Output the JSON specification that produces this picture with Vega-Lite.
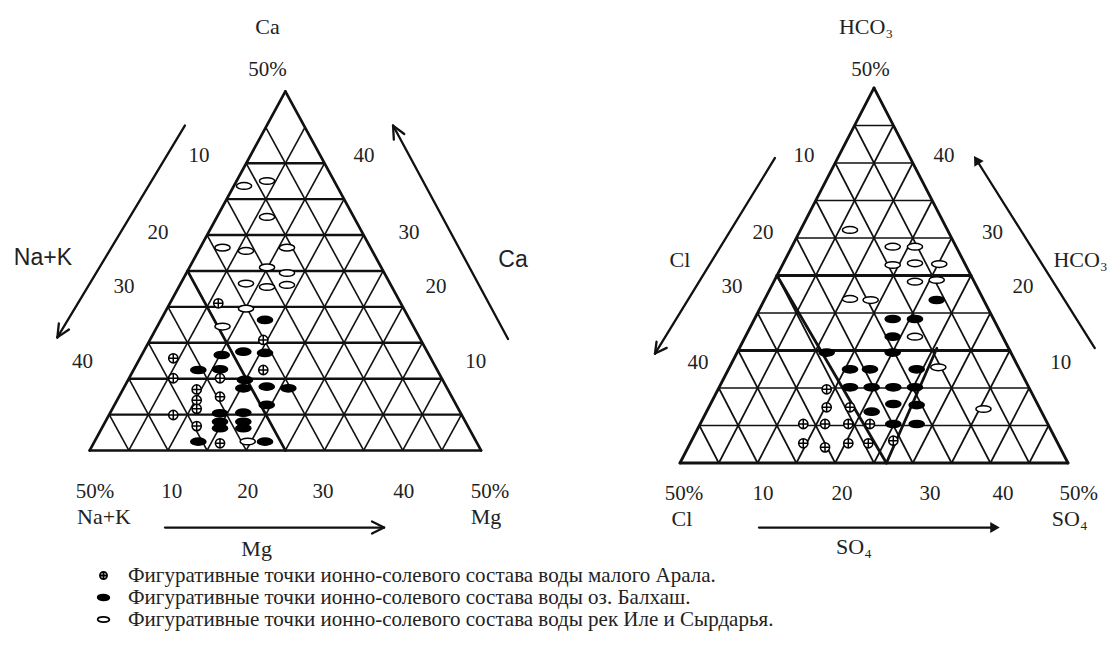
{
  "$schema": "https://vega.github.io/schema/vega-lite/v6.json",
  "padding": 0,
  "spacing": 0,
  "bounds": "flush",
  "background": "white",
  "config": {"view": {"stroke": null}},
  "resolve": {
    "scale": {"x": "independent", "y": "independent", "shape": "independent", "fill": "independent", "stroke": "independent"},
    "legend": {"shape": "independent", "fill": "independent", "stroke": "independent"}
  },
  "datasets": {
    "Lgrid": [
      {"x": 0, "y": 0, "x2": 50, "y2": 0, "t": "edge"},
      {"x": 0, "y": 0, "x2": 25, "y2": 50, "t": "edge"},
      {"x": 50, "y": 0, "x2": 25, "y2": 50, "t": "edge"},
      {"x": 2.5, "y": 5, "x2": 47.5, "y2": 5, "t": "h"},
      {"x": 5, "y": 10, "x2": 45, "y2": 10, "t": "h"},
      {"x": 7.5, "y": 15, "x2": 42.5, "y2": 15, "t": "h"},
      {"x": 10, "y": 20, "x2": 40, "y2": 20, "t": "h"},
      {"x": 12.5, "y": 25, "x2": 37.5, "y2": 25, "t": "h"},
      {"x": 15, "y": 30, "x2": 35, "y2": 30, "t": "h"},
      {"x": 17.5, "y": 35, "x2": 32.5, "y2": 35, "t": "h"},
      {"x": 20, "y": 40, "x2": 30, "y2": 40, "t": "h"},
      {"x": 5, "y": 0, "x2": 27.5, "y2": 45, "t": "d"},
      {"x": 10, "y": 0, "x2": 30, "y2": 40, "t": "d"},
      {"x": 15, "y": 0, "x2": 32.5, "y2": 35, "t": "d"},
      {"x": 20, "y": 0, "x2": 35, "y2": 30, "t": "d"},
      {"x": 25, "y": 0, "x2": 37.5, "y2": 25, "t": "d"},
      {"x": 30, "y": 0, "x2": 40, "y2": 20, "t": "d"},
      {"x": 35, "y": 0, "x2": 42.5, "y2": 15, "t": "d"},
      {"x": 40, "y": 0, "x2": 45, "y2": 10, "t": "d"},
      {"x": 45, "y": 0, "x2": 47.5, "y2": 5, "t": "d"},
      {"x": 5, "y": 0, "x2": 2.5, "y2": 5, "t": "d"},
      {"x": 10, "y": 0, "x2": 5, "y2": 10, "t": "d"},
      {"x": 15, "y": 0, "x2": 7.5, "y2": 15, "t": "d"},
      {"x": 20, "y": 0, "x2": 10, "y2": 20, "t": "d"},
      {"x": 25, "y": 0, "x2": 12.5, "y2": 25, "t": "d"},
      {"x": 30, "y": 0, "x2": 15, "y2": 30, "t": "d"},
      {"x": 35, "y": 0, "x2": 17.5, "y2": 35, "t": "d"},
      {"x": 40, "y": 0, "x2": 20, "y2": 40, "t": "d"},
      {"x": 45, "y": 0, "x2": 22.5, "y2": 45, "t": "d"},
      {"x": 12.5, "y": 25, "x2": 25, "y2": 0, "t": "edge"}
    ],
    "Rgrid": [
      {"x": 0, "y": 0, "x2": 50, "y2": 0, "t": "edge"},
      {"x": 0, "y": 0, "x2": 25, "y2": 50, "t": "edge"},
      {"x": 50, "y": 0, "x2": 25, "y2": 50, "t": "edge"},
      {"x": 2.5, "y": 5, "x2": 47.5, "y2": 5, "t": "d"},
      {"x": 5, "y": 10, "x2": 45, "y2": 10, "t": "d"},
      {"x": 7.5, "y": 15, "x2": 42.5, "y2": 15, "t": "edge"},
      {"x": 10, "y": 20, "x2": 40, "y2": 20, "t": "d"},
      {"x": 12.5, "y": 25, "x2": 37.5, "y2": 25, "t": "edge"},
      {"x": 15, "y": 30, "x2": 35, "y2": 30, "t": "d"},
      {"x": 17.5, "y": 35, "x2": 32.5, "y2": 35, "t": "d"},
      {"x": 20, "y": 40, "x2": 30, "y2": 40, "t": "d"},
      {"x": 22.5, "y": 45, "x2": 27.5, "y2": 45, "t": "d"},
      {"x": 5, "y": 0, "x2": 27.5, "y2": 45, "t": "d"},
      {"x": 10, "y": 0, "x2": 30, "y2": 40, "t": "d"},
      {"x": 15, "y": 0, "x2": 32.5, "y2": 35, "t": "d"},
      {"x": 20, "y": 0, "x2": 35, "y2": 30, "t": "d"},
      {"x": 25, "y": 0, "x2": 37.5, "y2": 25, "t": "d"},
      {"x": 30, "y": 0, "x2": 40, "y2": 20, "t": "d"},
      {"x": 35, "y": 0, "x2": 42.5, "y2": 15, "t": "d"},
      {"x": 40, "y": 0, "x2": 45, "y2": 10, "t": "d"},
      {"x": 45, "y": 0, "x2": 47.5, "y2": 5, "t": "d"},
      {"x": 5, "y": 0, "x2": 2.5, "y2": 5, "t": "d"},
      {"x": 10, "y": 0, "x2": 5, "y2": 10, "t": "d"},
      {"x": 15, "y": 0, "x2": 7.5, "y2": 15, "t": "d"},
      {"x": 20, "y": 0, "x2": 10, "y2": 20, "t": "d"},
      {"x": 25, "y": 0, "x2": 12.5, "y2": 25, "t": "d"},
      {"x": 30, "y": 0, "x2": 15, "y2": 30, "t": "d"},
      {"x": 35, "y": 0, "x2": 17.5, "y2": 35, "t": "d"},
      {"x": 40, "y": 0, "x2": 20, "y2": 40, "t": "d"},
      {"x": 45, "y": 0, "x2": 22.5, "y2": 45, "t": "d"},
      {"x": 12.5, "y": 25, "x2": 26.6, "y2": 0, "t": "edge"},
      {"x": 26.6, "y": 0, "x2": 33.1, "y2": 15.3, "t": "edge"}
    ],
    "Larrows": [
      {"x": 12.16, "y": 45.25, "x2": -4.13, "y2": 15.75},
      {"x": -4.13, "y": 15.75, "x2": -2.65, "y2": 16.84},
      {"x": -4.13, "y": 15.75, "x2": -3.94, "y2": 17.69},
      {"x": 53.45, "y": 15.53, "x2": 38.76, "y2": 45.25},
      {"x": 38.76, "y": 45.25, "x2": 38.86, "y2": 43.3},
      {"x": 38.76, "y": 45.25, "x2": 40.19, "y2": 44.08},
      {"x": 9.62, "y": -10.74, "x2": 37.61, "y2": -10.74},
      {"x": 37.61, "y": -10.74, "x2": 36.07, "y2": -9.9},
      {"x": 37.61, "y": -10.74, "x2": 36.07, "y2": -11.57}
    ],
    "Rarrows": [
      {"x": 12.24, "y": 40.67, "x2": -3.22, "y2": 14.59},
      {"x": -3.22, "y": 14.59, "x2": -1.71, "y2": 15.35},
      {"x": -3.22, "y": 14.59, "x2": -3.02, "y2": 16.17},
      {"x": 53.45, "y": 15.33, "x2": 38.4, "y2": 40.1},
      {"x": 10.18, "y": -8.61, "x2": 40.5, "y2": -8.61}
    ],
    "Rheads": [
      {"x": 38.21, "y": 40.41, "h": "HCO3"},
      {"x": 40.59, "y": -8.61, "h": "SO4"}
    ],
    "Lnum": [
      {"x": 22.71, "y": 52.99, "label": "50%"},
      {"x": 13.97, "y": 41.02, "label": "10"},
      {"x": 8.73, "y": 30.29, "label": "20"},
      {"x": 4.38, "y": 22.77, "label": "30"},
      {"x": -0.91, "y": 12.26, "label": "40"},
      {"x": 35.05, "y": 41.02, "label": "40"},
      {"x": 40.8, "y": 30.29, "label": "30"},
      {"x": 44.25, "y": 22.77, "label": "20"},
      {"x": 49.31, "y": 12.26, "label": "10"},
      {"x": 0.68, "y": -5.78, "label": "50%"},
      {"x": 10.47, "y": -5.78, "label": "10"},
      {"x": 20.19, "y": -5.78, "label": "20"},
      {"x": 29.81, "y": -5.78, "label": "30"},
      {"x": 40.14, "y": -5.78, "label": "40"},
      {"x": 51.15, "y": -5.78, "label": "50%"}
    ],
    "Lname": [
      {"x": 22.71, "y": 58.98, "label": "Ca"},
      {"x": 1.83, "y": -9.26, "label": "Na+K"},
      {"x": 50.64, "y": -9.26, "label": "Mg"},
      {"x": 21.33, "y": -13.72, "label": "Mg"}
    ],
    "Lsans": [
      {"x": -5.97, "y": 26.81, "label": "Na+K"},
      {"x": 54.09, "y": 26.53, "label": "Ca"}
    ],
    "Rnum": [
      {"x": 24.55, "y": 52.4, "label": "50%"},
      {"x": 15.98, "y": 40.93, "label": "10"},
      {"x": 10.7, "y": 30.67, "label": "20"},
      {"x": 6.7, "y": 23.47, "label": "30"},
      {"x": 2.32, "y": 13.4, "label": "40"},
      {"x": 34.02, "y": 40.93, "label": "40"},
      {"x": 40.27, "y": 30.67, "label": "30"},
      {"x": 44.2, "y": 23.47, "label": "20"},
      {"x": 49.06, "y": 13.4, "label": "10"},
      {"x": 0.52, "y": -4.07, "label": "50%"},
      {"x": 10.7, "y": -4.07, "label": "10"},
      {"x": 20.88, "y": -4.07, "label": "20"},
      {"x": 32.22, "y": -4.07, "label": "30"},
      {"x": 41.62, "y": -4.07, "label": "40"},
      {"x": 51.38, "y": -4.07, "label": "50%"}
    ],
    "Rname": [
      {"x": 23.97, "y": 58.13, "label": "HCO₃"},
      {"x": 0, "y": 27.07, "label": "Cl"},
      {"x": 51.61, "y": 27.07, "label": "HCO₃"},
      {"x": 0.26, "y": -7.43, "label": "Cl"},
      {"x": 50.22, "y": -7.43, "label": "SO₄"},
      {"x": 22.42, "y": -11.2, "label": "SO₄"}
    ],
    "Lpts": [
      {"x": 19.72, "y": 36.84, "s": "R"}, {"x": 22.66, "y": 37.53, "s": "R"}, {"x": 22.66, "y": 32.52, "s": "R"},
      {"x": 16.97, "y": 28.25, "s": "R"}, {"x": 19.97, "y": 27.79, "s": "R"}, {"x": 25.21, "y": 28.25, "s": "R"},
      {"x": 22.66, "y": 25.5, "s": "R"}, {"x": 25.21, "y": 24.72, "s": "R"}, {"x": 19.97, "y": 23.25, "s": "R"},
      {"x": 22.66, "y": 22.77, "s": "R"}, {"x": 25.21, "y": 23.05, "s": "R"}, {"x": 19.97, "y": 19.75, "s": "R"},
      {"x": 16.97, "y": 17.26, "s": "R"}, {"x": 20.19, "y": 1.25, "s": "R"},
      {"x": 22.4, "y": 18.18, "s": "B"}, {"x": 16.87, "y": 13.3, "s": "B"}, {"x": 19.63, "y": 13.76, "s": "B"},
      {"x": 22.4, "y": 13.58, "s": "B"}, {"x": 13.88, "y": 11.21, "s": "B"}, {"x": 16.65, "y": 11.31, "s": "B"},
      {"x": 19.84, "y": 9.82, "s": "B"}, {"x": 19.63, "y": 8.66, "s": "B"}, {"x": 22.62, "y": 8.89, "s": "B"},
      {"x": 25.38, "y": 8.66, "s": "B"}, {"x": 22.62, "y": 6.34, "s": "B"}, {"x": 16.65, "y": 5.18, "s": "B"},
      {"x": 19.63, "y": 5.26, "s": "B"}, {"x": 16.65, "y": 4.0, "s": "B"}, {"x": 16.65, "y": 3.1, "s": "B"},
      {"x": 19.63, "y": 4.0, "s": "B"}, {"x": 19.63, "y": 3.1, "s": "B"}, {"x": 13.88, "y": 1.23, "s": "B"},
      {"x": 22.4, "y": 1.23, "s": "B"},
      {"x": 16.43, "y": 20.5, "s": "A"}, {"x": 22.18, "y": 15.39, "s": "A"}, {"x": 10.68, "y": 12.84, "s": "A"},
      {"x": 22.18, "y": 11.21, "s": "A"}, {"x": 10.68, "y": 10.06, "s": "A"}, {"x": 16.65, "y": 10.06, "s": "A"},
      {"x": 13.67, "y": 8.5, "s": "A"}, {"x": 13.67, "y": 7.0, "s": "A"}, {"x": 13.67, "y": 5.8, "s": "A"},
      {"x": 16.65, "y": 7.49, "s": "A"}, {"x": 10.68, "y": 4.94, "s": "A"}, {"x": 13.67, "y": 3.4, "s": "A"},
      {"x": 16.65, "y": 1.0, "s": "A"}
    ],
    "Rpts": [
      {"x": 21.91, "y": 31.07, "s": "R"}, {"x": 27.41, "y": 28.84, "s": "R"}, {"x": 30.28, "y": 28.84, "s": "R"},
      {"x": 27.41, "y": 26.4, "s": "R"}, {"x": 30.28, "y": 26.63, "s": "R"}, {"x": 33.41, "y": 26.53, "s": "R"},
      {"x": 30.28, "y": 24.17, "s": "R"}, {"x": 33.08, "y": 24.4, "s": "R"}, {"x": 21.91, "y": 21.87, "s": "R"},
      {"x": 24.57, "y": 21.73, "s": "R"}, {"x": 30.28, "y": 16.84, "s": "R"}, {"x": 33.29, "y": 12.76, "s": "R"},
      {"x": 39.11, "y": 7.2, "s": "R"},
      {"x": 33.08, "y": 21.73, "s": "B"}, {"x": 27.41, "y": 19.2, "s": "B"}, {"x": 30.28, "y": 19.2, "s": "B"},
      {"x": 27.41, "y": 16.84, "s": "B"}, {"x": 18.9, "y": 14.73, "s": "B"}, {"x": 27.41, "y": 14.73, "s": "B"},
      {"x": 21.91, "y": 12.49, "s": "B"}, {"x": 24.48, "y": 12.49, "s": "B"}, {"x": 30.5, "y": 12.49, "s": "B"},
      {"x": 21.91, "y": 10.09, "s": "B"}, {"x": 24.7, "y": 10.09, "s": "B"}, {"x": 27.49, "y": 10.09, "s": "B"},
      {"x": 30.28, "y": 10.09, "s": "B"}, {"x": 24.7, "y": 6.84, "s": "B"}, {"x": 27.49, "y": 7.87, "s": "B"},
      {"x": 30.5, "y": 7.73, "s": "B"}, {"x": 27.49, "y": 5.2, "s": "B"}, {"x": 30.5, "y": 5.2, "s": "B"},
      {"x": 18.9, "y": 9.83, "s": "A"}, {"x": 18.9, "y": 7.43, "s": "A"}, {"x": 21.91, "y": 7.43, "s": "A"},
      {"x": 15.89, "y": 5.2, "s": "A"}, {"x": 18.69, "y": 5.2, "s": "A"}, {"x": 21.69, "y": 5.2, "s": "A"},
      {"x": 24.48, "y": 5.2, "s": "A"}, {"x": 15.89, "y": 2.63, "s": "A"}, {"x": 18.69, "y": 2.09, "s": "A"},
      {"x": 21.69, "y": 2.63, "s": "A"}, {"x": 24.27, "y": 2.63, "s": "A"}, {"x": 27.49, "y": 2.97, "s": "A"}
    ]
  },
  "hconcat": [
    {
      "width": 560,
      "height": 662,
      "encoding": {
        "x": {"field": "x", "type": "quantitative", "scale": {"domain": [-11.46, 60.09], "nice": false, "zero": false}, "axis": null},
        "y": {"field": "y", "type": "quantitative", "scale": {"domain": [-29.46, 62.74], "nice": false, "zero": false}, "axis": null}
      },
      "layer": [
        {"data": {"name": "Lgrid"}, "transform": [{"filter": "datum.t === 'd'"}],
         "mark": {"type": "rule", "color": "#111", "strokeWidth": 1.6},
         "encoding": {"x2": {"field": "x2"}, "y2": {"field": "y2"}}},
        {"data": {"name": "Lgrid"}, "transform": [{"filter": "datum.t === 'h'"}],
         "mark": {"type": "rule", "color": "#111", "strokeWidth": 2.4},
         "encoding": {"x2": {"field": "x2"}, "y2": {"field": "y2"}}},
        {"data": {"name": "Lgrid"}, "transform": [{"filter": "datum.t === 'edge'"}],
         "mark": {"type": "rule", "color": "#111", "strokeWidth": 2.7, "strokeCap": "round"},
         "encoding": {"x2": {"field": "x2"}, "y2": {"field": "y2"}}},
        {"data": {"name": "Larrows"},
         "mark": {"type": "rule", "color": "#111", "strokeWidth": 2.3, "strokeCap": "round"},
         "encoding": {"x2": {"field": "x2"}, "y2": {"field": "y2"}}},
        {"data": {"name": "Lnum"},
         "mark": {"type": "text", "font": "Liberation Serif", "fontSize": 21, "color": "#222", "align": "center", "baseline": "middle"},
         "encoding": {"text": {"field": "label"}}},
        {"data": {"name": "Lname"},
         "mark": {"type": "text", "font": "Liberation Serif", "fontSize": 22, "color": "#222", "align": "center", "baseline": "middle"},
         "encoding": {"text": {"field": "label"}}},
        {"data": {"name": "Lsans"},
         "mark": {"type": "text", "font": "Liberation Sans", "fontSize": 23, "color": "#222", "align": "center", "baseline": "middle"},
         "encoding": {"text": {"field": "label"}}},
        {"data": {"name": "Lpts"},
         "mark": {"type": "point", "filled": true, "strokeWidth": 1.5, "opacity": 1, "size": 256},
         "encoding": {
           "shape": {"field": "s", "type": "nominal",
             "scale": {"domain": ["A", "B", "R"], "range": [
               "M-0.58,0A0.58,0.58,0,1,1,0.58,0A0.58,0.58,0,1,1,-0.58,0ZM-0.58,0L0.58,0M0,-0.58L0,0.58",
               "M-0.95,0A0.95,0.45,0,1,1,0.95,0A0.95,0.45,0,1,1,-0.95,0Z",
               "M-0.95,0A0.95,0.42,0,1,1,0.95,0A0.95,0.42,0,1,1,-0.95,0Z"]},
             "legend": {"orient": "none", "legendX": 93, "legendY": 565, "title": null, "padding": 0,
               "labelFont": "Liberation Serif", "labelFontSize": 21, "labelColor": "#222", "labelLimit": 1200,
               "labelOffset": 14, "rowPadding": 0, "symbolSize": 150, "symbolStrokeWidth": 1.8,
               "labelExpr": "datum.label === 'A' ? 'Фигуративные точки ионно-солевого состава воды малого Арала.' : datum.label === 'B' ? 'Фигуративные точки ионно-солевого состава воды оз. Балхаш.' : 'Фигуративные точки ионно-солевого состава воды рек Иле и Сырдарья.'"}},
           "fill": {"field": "s", "type": "nominal",
             "scale": {"domain": ["A", "B", "R"], "range": ["white", "black", "white"]},
             "legend": {"orient": "none", "legendX": 93, "legendY": 565, "title": null, "padding": 0,
               "labelFont": "Liberation Serif", "labelFontSize": 21, "labelColor": "#222", "labelLimit": 1200,
               "labelOffset": 14, "rowPadding": 0, "symbolSize": 150, "symbolStrokeWidth": 1.8,
               "labelExpr": "datum.label === 'A' ? 'Фигуративные точки ионно-солевого состава воды малого Арала.' : datum.label === 'B' ? 'Фигуративные точки ионно-солевого состава воды оз. Балхаш.' : 'Фигуративные точки ионно-солевого состава воды рек Иле и Сырдарья.'"}},
           "stroke": {"field": "s", "type": "nominal",
             "scale": {"domain": ["A", "B", "R"], "range": ["black", "black", "black"]},
             "legend": {"orient": "none", "legendX": 93, "legendY": 565, "title": null, "padding": 0,
               "labelFont": "Liberation Serif", "labelFontSize": 21, "labelColor": "#222", "labelLimit": 1200,
               "labelOffset": 14, "rowPadding": 0, "symbolSize": 150, "symbolStrokeWidth": 1.8,
               "labelExpr": "datum.label === 'A' ? 'Фигуративные точки ионно-солевого состава воды малого Арала.' : datum.label === 'B' ? 'Фигуративные точки ионно-солевого состава воды оз. Балхаш.' : 'Фигуративные точки ионно-солевого состава воды рек Иле и Сырдарья.'"}}
         }}
      ]
    },
    {
      "width": 560,
      "height": 662,
      "encoding": {
        "x": {"field": "x", "type": "quantitative", "scale": {"domain": [-15.46, 56.7], "nice": false, "zero": false}, "axis": null},
        "y": {"field": "y", "type": "quantitative", "scale": {"domain": [-26.53, 61.73], "nice": false, "zero": false}, "axis": null}
      },
      "layer": [
        {"data": {"name": "Rgrid"}, "transform": [{"filter": "datum.t === 'd'"}],
         "mark": {"type": "rule", "color": "#111", "strokeWidth": 1.7},
         "encoding": {"x2": {"field": "x2"}, "y2": {"field": "y2"}}},
        {"data": {"name": "Rgrid"}, "transform": [{"filter": "datum.t === 'edge'"}],
         "mark": {"type": "rule", "color": "#111", "strokeWidth": 2.8, "strokeCap": "round"},
         "encoding": {"x2": {"field": "x2"}, "y2": {"field": "y2"}}},
        {"data": {"name": "Rarrows"},
         "mark": {"type": "rule", "color": "#111", "strokeWidth": 2.3, "strokeCap": "round"},
         "encoding": {"x2": {"field": "x2"}, "y2": {"field": "y2"}}},
        {"data": {"name": "Rheads"}, "transform": [{"filter": "datum.h === 'HCO3'"}],
         "mark": {"type": "point", "shape": "triangle-up", "filled": true, "color": "#111", "opacity": 1, "size": 120, "angle": -32}},
        {"data": {"name": "Rheads"}, "transform": [{"filter": "datum.h === 'SO4'"}],
         "mark": {"type": "point", "shape": "triangle-right", "filled": true, "color": "#111", "opacity": 1, "size": 120}},
        {"data": {"name": "Rnum"},
         "mark": {"type": "text", "font": "Liberation Serif", "fontSize": 21, "color": "#222", "align": "center", "baseline": "middle"},
         "encoding": {"text": {"field": "label"}}},
        {"data": {"name": "Rname"},
         "mark": {"type": "text", "font": "Liberation Serif", "fontSize": 22, "color": "#222", "align": "center", "baseline": "middle"},
         "encoding": {"text": {"field": "label"}}},
        {"data": {"name": "Rpts"},
         "mark": {"type": "point", "filled": true, "strokeWidth": 1.5, "opacity": 1, "size": 256},
         "encoding": {
           "shape": {"field": "s", "type": "nominal",
             "scale": {"domain": ["A", "B", "R"], "range": [
               "M-0.58,0A0.58,0.58,0,1,1,0.58,0A0.58,0.58,0,1,1,-0.58,0ZM-0.58,0L0.58,0M0,-0.58L0,0.58",
               "M-0.95,0A0.95,0.45,0,1,1,0.95,0A0.95,0.45,0,1,1,-0.95,0Z",
               "M-0.95,0A0.95,0.42,0,1,1,0.95,0A0.95,0.42,0,1,1,-0.95,0Z"]},
             "legend": null},
           "fill": {"field": "s", "type": "nominal",
             "scale": {"domain": ["A", "B", "R"], "range": ["white", "black", "white"]},
             "legend": null},
           "stroke": {"field": "s", "type": "nominal",
             "scale": {"domain": ["A", "B", "R"], "range": ["black", "black", "black"]},
             "legend": null}
         }}
      ]
    }
  ]
}
